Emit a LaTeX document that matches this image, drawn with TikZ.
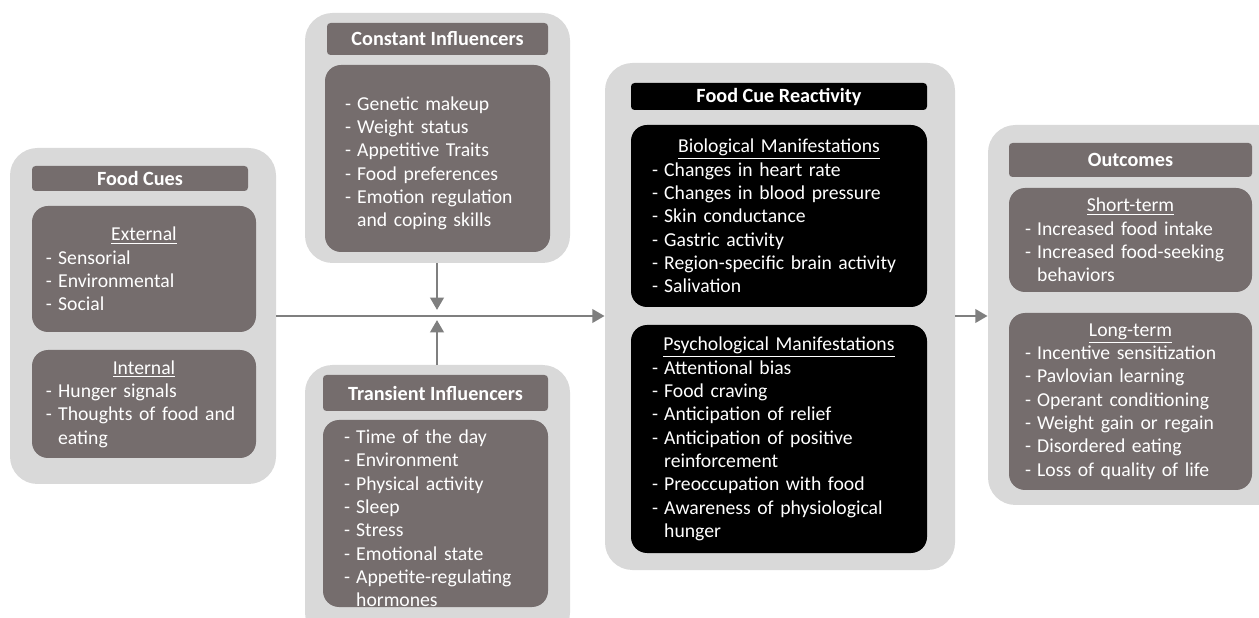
\documentclass[tikz,border=0pt]{standalone}
\usepackage{fontspec}
\setmainfont{Carlito}
\usetikzlibrary{positioning,fit,arrows.meta}
\definecolor{frameGray}{RGB}{217,217,217}
\definecolor{boxGray}{RGB}{117,109,109}
\definecolor{arrowGray}{RGB}{127,127,127}
\hyphenpenalty=10000
\newcommand{\hd}[1]{{\centering\underline{#1}\par}}
\newcommand{\itm}[1]{\par\hangindent=0.62em\hangafter=1\relax\makebox[0.62em][l]{-}#1\par}
\tikzset{frame/.style={fill=frameGray,rounded corners=0.55cm,inner sep=0pt},
         titlebar/.style={fill=boxGray,rounded corners=2pt,inner sep=0pt},
         listbox/.style={fill=boxGray,rounded corners=0.32cm,inner sep=0pt},
         blacktitle/.style={titlebar,fill=black},
         blackbox/.style={listbox,fill=black},
         titletext/.style={text=white,font=\fontsize{11.5}{13.3}\selectfont\bfseries},
         listtext/.style={text=white,align=left,inner sep=0pt,text width=#1*0.02cm},
         line/.style={arrowGray,line width=1.7pt,-{Triangle[length=7pt,width=7.5pt]}}
}
\begin{document}
\begin{tikzpicture}[x=0.02cm,y=-0.02cm,font=\fontsize{11.2}{13.3}\selectfont]
  \clip (0,0) rectangle (1259,618);
  \useasboundingbox (0,0) rectangle (1259,618);
  \fill[white] (0,0) rectangle (1259,618);
  % outer frames
  \node[frame,fit={(10,148) (276,484)}] (cues) {};
  \node[frame,fit={(305,13) (570,263)}] (const) {};
  \node[frame,fit={(305,365) (570,640)}] (trans) {};
  \node[frame,fit={(605,63) (955,570)}] (fcr) {};
  \node[frame,fit={(988,125) (1285,505)}] (out) {};
  % food cues
  \node[titlebar,fit={(32,166) (248,191)}] (cuesT) {};
  \node[titletext] (cuesTt) at (cuesT) {Food Cues};
  \node[listbox,fit={(32,206) (256,332)}] (ext) {};
  \node[listtext=196] (extt) at (ext) {\hd{External}\itm{Sensorial}\itm{Environmental}\itm{Social}};
  \node[listbox,fit={(32,350) (256,458)}] (int) {};
  \node[listtext=196] (intt) at (int) {\hd{Internal}\itm{Hunger signals}\itm{Thoughts of food and eating}};
  % constant influencers
  \node[titlebar,fit={(327,23) (548,55)}] (constT) {};
  \node[titletext] (constTt) at (constT) {Constant Influencers};
  \node[listbox,fit={(325,65) (550,252)}] (constL) {};
  \node[listtext=185] (constLt) at (constL) {\itm{Genetic makeup}\itm{Weight status}\itm{Appetitive Traits}\itm{Food preferences}\itm{Emotion regulation and coping skills}};
  % transient influencers
  \node[titlebar,fit={(323,375) (548,411)}] (transT) {};
  \node[titletext] (transTt) at (transT) {Transient Influencers};
  \node[listbox,fit={(323,420) (548,607)}] (transL) {};
  \node[listtext=183] (transLt) at (transL) {\itm{Time of the day}\itm{Environment}\itm{Physical activity}\itm{Sleep}\itm{Stress}\itm{Emotional state}\itm{Appetite-regulating hormones}};
  % food cue reactivity
  \node[blacktitle,fit={(631,83) (927,110)}] (fcrT) {};
  \node[titletext] (fcrTt) at (fcrT) {Food Cue Reactivity};
  \node[blackbox,fit={(631,125) (927,307)}] (bio) {};
  \node[listtext=254] (biot) at (bio) {\hd{Biological Manifestations}\itm{Changes in heart rate}\itm{Changes in blood pressure}\itm{Skin conductance}\itm{Gastric activity}\itm{Region-specific brain activity}\itm{Salivation}};
  \node[blackbox,fit={(631,325) (927,553)}] (psy) {};
  \node[listtext=254] (psyt) at (psy) {\hd{Psychological Manifestations}\itm{Attentional bias}\itm{Food craving}\itm{Anticipation of relief}\itm{Anticipation of positive reinforcement}\itm{Preoccupation with food}\itm{Awareness of physiological hunger}};
  % outcomes
  \node[titlebar,fit={(1009,143) (1252,177)}] (outT) {};
  \node[titletext] (outTt) at (outT) {Outcomes};
  \node[listbox,fit={(1009,188) (1252,292)}] (short) {};
  \node[listtext=211] (shortt) at (short) {\hd{Short-term}\itm{Increased food intake}\itm{Increased food-seeking behaviors}};
  \node[listbox,fit={(1009,313) (1252,490)}] (long) {};
  \node[listtext=211] (longt) at (long) {\hd{Long-term}\itm{Incentive sensitization}\itm{Pavlovian learning}\itm{Operant conditioning}\itm{Weight gain or regain}\itm{Disordered eating}\itm{Loss of quality of life}};
  % connectors
  \coordinate (cuesE) at (cues.east |- 0,316);
  \coordinate (fcrW) at (fcr.west |- 0,316);
  \coordinate (fcrE) at (fcr.east |- 0,316);
  \coordinate (outW) at (out.west |- 0,316);
  \coordinate (midDown) at (437,310);
  \coordinate (midUp) at (437,320);
  \draw[line] (cuesE) -- (fcrW);
  \draw[line] (const.south -| midDown) -- (midDown);
  \draw[line] (trans.north -| midUp) -- (midUp);
  \draw[line] (fcrE) -- (outW);
\end{tikzpicture}
\end{document}
